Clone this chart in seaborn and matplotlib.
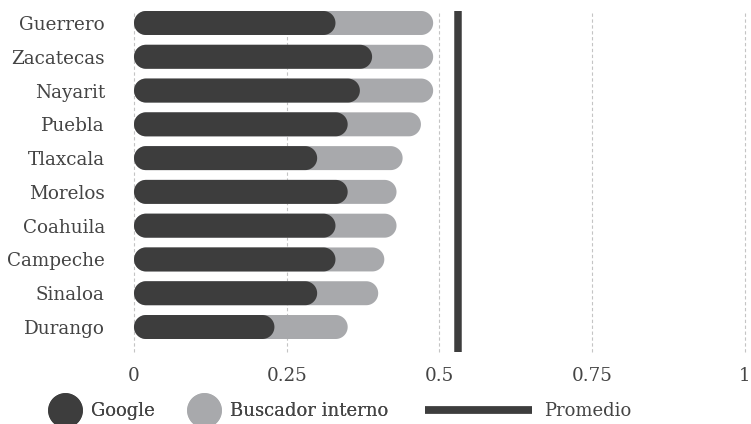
import matplotlib
matplotlib.use("Agg")
import numpy as np
import pandas as pd
import matplotlib.pyplot as plt
import seaborn as sns
from matplotlib.patches import PathPatch
from matplotlib.path import Path
from matplotlib.lines import Line2D

# datos
estados = ['Guerrero', 'Zacatecas', 'Nayarit', 'Puebla', 'Tlaxcala',
           'Morelos', 'Coahuila', 'Campeche', 'Sinaloa', 'Durango']
google = [0.33, 0.39, 0.37, 0.35, 0.30, 0.35, 0.33, 0.33, 0.30, 0.23]
buscador = [0.16, 0.10, 0.12, 0.12, 0.14, 0.08, 0.10, 0.08, 0.10, 0.12]
promedio = 0.53
ticks = [0, 0.25, 0.5, 0.75, 1]
tick_labels = ['0', '0.25', '0.5', '0.75', '1']

c_google = '#3d3d3d'
c_busc = '#a8a9ac'
c_text = '#444444'

df = pd.DataFrame({'Estado': estados, 'Google': google, 'Buscador': buscador})
df['Total'] = df['Google'] + df['Buscador']

sns.set_style('white')
plt.rcParams['font.family'] = ['DejaVu Serif']

fig = plt.figure(figsize=(7.51, 4.24), dpi=100)
ax = fig.add_axes([134 / 751, 1 - 352 / 424, 610.5 / 751, 341 / 424])

sns.barplot(data=df, y='Estado', x='Total', color=c_busc, width=0.71,
            saturation=1, ax=ax)
sns.barplot(data=df, y='Estado', x='Google', color=c_google, width=0.71,
            saturation=1, ax=ax)

ax.set_xlim(0, 1)
ax.set_ylim(9.74, -0.355)


def pill(x, y, w, h, rx):
    # rectangulo con extremos semicirculares (rx en unidades de x)
    ry = h / 2
    cy = y + ry
    t1 = np.linspace(np.pi / 2, 3 * np.pi / 2, 40)
    t2 = np.linspace(-np.pi / 2, np.pi / 2, 40)
    left = np.column_stack([x + rx + rx * np.cos(t1), cy + ry * np.sin(t1)])
    right = np.column_stack([x + w - rx + rx * np.cos(t2), cy + ry * np.sin(t2)])
    verts = np.vstack([left, right, left[:1]])
    codes = [Path.MOVETO] + [Path.LINETO] * (len(verts) - 2) + [Path.CLOSEPOLY]
    return Path(verts, codes)


# bordes redondeados
fig.canvas.draw()
bbox = ax.get_window_extent()
px_x = bbox.width / 1.0
px_y = bbox.height / 10.095
for p in list(ax.patches):
    x, y = p.get_x(), p.get_y()
    w, h = p.get_width(), p.get_height()
    rx = abs(h) / 2 * px_y / px_x
    pp = PathPatch(pill(x, y, w, h, rx), facecolor=p.get_facecolor(),
                   edgecolor='none', zorder=p.get_zorder())
    p.remove()
    ax.add_patch(pp)

ax.axvline(promedio, color=c_google, lw=5.4, zorder=5)

ax.set_xticks(ticks)
ax.set_xticklabels(tick_labels)
ax.xaxis.grid(True, ls=(0, (3, 2.3)), color='#c4c4c4', lw=0.8)
for gl in ax.get_xgridlines():
    gl.set_clip_on(False)
ax.set_axisbelow(True)
for s in ax.spines.values():
    s.set_visible(False)
ax.set_xlabel('')
ax.set_ylabel('')
ax.tick_params(axis='y', length=0, pad=21, labelsize=13.2, labelcolor=c_text)
ax.tick_params(axis='x', length=0, pad=10.5, labelsize=13.2, labelcolor=c_text)

# leyenda
h1 = [Line2D([], [], ls='none', marker='o', markersize=25,
             markerfacecolor=c_google, markeredgecolor='none'),
      Line2D([], [], ls='none', marker='o', markersize=25,
             markerfacecolor=c_busc, markeredgecolor='none')]
leg1 = fig.legend(h1, ['Google', 'Buscador interno'], ncol=2, frameon=False,
                  loc='center left', bbox_to_anchor=(47 / 751, 1 - 411 / 424),
                  handlelength=2.0, handletextpad=0.45, columnspacing=1.7,
                  borderaxespad=0, borderpad=0, fontsize=13,
                  labelcolor=c_text)
h2 = [Line2D([], [], color=c_google, lw=5.6, solid_capstyle='butt')]
fig.legend(h2, ['Promedio'], frameon=False, loc='center left',
           bbox_to_anchor=(425 / 751, 1 - 411 / 424), handlelength=5.9,
           handletextpad=0.67, borderaxespad=0, borderpad=0, fontsize=13,
           labelcolor=c_text)
fig.add_artist(leg1)

fig.savefig('out.png', dpi=100)
